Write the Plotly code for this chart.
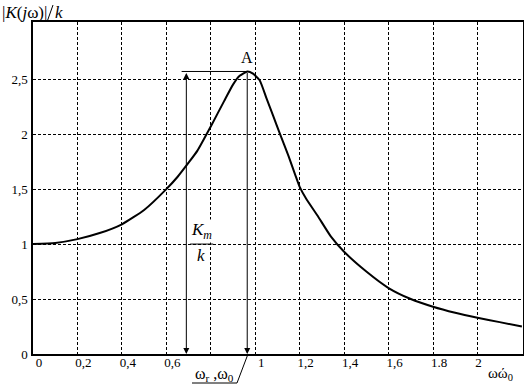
import plotly.graph_objects as go

# Data
w_ratio = [0, 0.1, 0.2, 0.3, 0.4, 0.5, 0.6, 0.65, 0.7, 0.74, 0.8, 0.86, 0.9, 0.93, 0.965,
           0.99, 1.02, 1.05, 1.08, 1.11, 1.15, 1.18, 1.2, 1.23, 1.28, 1.34, 1.4, 1.5, 1.6, 1.7,
           1.8, 1.9, 2.0, 2.1, 2.2]
k_ratio = [1.0, 1.01, 1.045, 1.10, 1.18, 1.31, 1.5, 1.61, 1.74, 1.85, 2.07, 2.3, 2.45, 2.53, 2.57,
           2.55, 2.49, 2.33, 2.17, 2.01, 1.8, 1.63, 1.52, 1.41, 1.26, 1.07, 0.93, 0.75, 0.6, 0.5,
           0.43, 0.375, 0.33, 0.29, 0.25]

x_ticks = [0, 0.2, 0.4, 0.6, 0.8, 1.0, 1.2, 1.4, 1.6, 1.8, 2.0]
x_labels = ["0", "0,2", "0,4", "0,6", "", "1", "1,2", "1,4", "1,6", "1.8", "2\u00a0\u00a0\u00a0"]
y_ticks = [0, 0.5, 1.0, 1.5, 2.0, 2.5]
y_labels = ["0", "0,5", "1", "1,5", "2", "2,5"]

peak_x = 0.964
peak_y = 2.57
km_x = 0.69

FONT = "Liberation Serif"

fig = go.Figure()
fig.add_trace(go.Scatter(x=w_ratio, y=k_ratio, mode="lines",
                         line=dict(color="black", width=2, shape="spline", smoothing=0.5),
                         showlegend=False, hoverinfo="skip"))

axis_common = dict(showline=True, linecolor="black", linewidth=1.5, mirror=True,
                   showgrid=True, gridcolor="black", gridwidth=1, griddash="3px,2px",
                   zeroline=False, ticks="", automargin=False,
                   tickfont=dict(family=FONT, size=13, color="black"))

fig.update_xaxes(range=[0, 2.205], tickvals=x_ticks, ticktext=x_labels,
                 ticklabelshift=6, ticklabelstandoff=-4, **axis_common)
fig.update_yaxes(range=[0, 3.02], tickvals=y_ticks, ticktext=y_labels,
                 ticklabelstandoff=1, **axis_common)

anns = []
# vertical double arrow Km/k
anns.append(dict(x=km_x, y=0, ax=km_x, ay=peak_y, xref="x", yref="y", axref="x", ayref="y",
                 showarrow=True, arrowhead=2, arrowside="end+start", arrowsize=1.2,
                 arrowwidth=1, arrowcolor="black", text=""))
# horizontal line to peak
anns.append(dict(x=peak_x, y=peak_y, ax=0.662, ay=peak_y, xref="x", yref="y", axref="x", ayref="y",
                 showarrow=True, arrowhead=0, arrowwidth=1, arrowcolor="black", text=""))
# vertical arrow from peak down
anns.append(dict(x=peak_x, y=0, ax=peak_x, ay=peak_y, xref="x", yref="y", axref="x", ayref="y",
                 showarrow=True, arrowhead=2, arrowsize=1.2, arrowwidth=1, arrowcolor="black", text=""))
# A label
anns.append(dict(x=peak_x, y=peak_y, xref="x", yref="y", text="A", showarrow=False,
                 yanchor="bottom", yshift=3, font=dict(family=FONT, size=16, color="black")))
# Km/k fraction
anns.append(dict(x=0.757, y=1.0, xref="x", yref="y", text="<i>K<sub>m</sub></i>", showarrow=False,
                 yanchor="bottom", yshift=1, bgcolor="white", borderpad=0,
                 font=dict(family=FONT, size=17, color="black")))
anns.append(dict(x=0.757, y=1.0, xref="x", yref="y", text="<i>k</i>", showarrow=False,
                 yanchor="top", yshift=-1, bgcolor="white", borderpad=0,
                 font=dict(family=FONT, size=17, color="black")))
# wr/w0 label below axis
anns.append(dict(x=(214 - 33) / 490, y=-(363 - 354) / 332, xref="paper", yref="paper",
                 text="ω<sub>r</sub> ,ω<sub>0</sub>", showarrow=False, yanchor="top",
                 font=dict(family=FONT, size=16, color="black")))
# x axis title
anns.append(dict(x=(486 - 33) / 490, y=-(363 - 354) / 332, xref="paper", yref="paper",
                 text="ωώ<sub>0</sub>", showarrow=False, yanchor="top", xanchor="left",
                 font=dict(family=FONT, size=15, color="black")))
# y axis title
anns.append(dict(x=-33 / 490, y=1 + 10 / 332, xref="paper", yref="paper",
                 text="|<i>K</i>(<i>j</i>ω)|", showarrow=False, xanchor="left", yanchor="middle",
                 font=dict(family=FONT, size=17, color="black")))
anns.append(dict(x=(53 - 33) / 490, y=1 + 10 / 332, xref="paper", yref="paper",
                 text="<i>k</i>", showarrow=False, xanchor="left", yanchor="middle",
                 font=dict(family=FONT, size=17, color="black")))

shapes = [
    # fraction bar
    dict(type="line", xref="x", yref="y", x0=0.707, x1=0.811, y0=1.0, y1=1.0,
         line=dict(color="black", width=1)),
    # underline of wr/w0 and leader to axis
    dict(type="line", xref="paper", yref="paper", x0=(192 - 33) / 490, x1=(237 - 33) / 490,
         y0=-(383 - 354) / 332, y1=-(383 - 354) / 332, line=dict(color="black", width=1)),
    dict(type="line", xref="paper", yref="paper", x0=(237 - 33) / 490, x1=(248 - 33) / 490,
         y0=-(383 - 354) / 332, y1=0, line=dict(color="black", width=1)),
    # slash in y title
    dict(type="line", xref="paper", yref="paper", x0=(47 - 33) / 490, x1=(53 - 33) / 490,
         y0=1.0, y1=1 + 17 / 332, line=dict(color="black", width=1)),
]

fig.update_layout(width=524, height=385, margin=dict(l=33, r=1, t=22, b=31),
                  paper_bgcolor="white", plot_bgcolor="white",
                  annotations=anns, shapes=shapes, showlegend=False)

fig.write_html("out.html", config={"displayModeBar": False},
               post_script="document.body.style.margin='0';document.body.style.overflow='hidden';")
